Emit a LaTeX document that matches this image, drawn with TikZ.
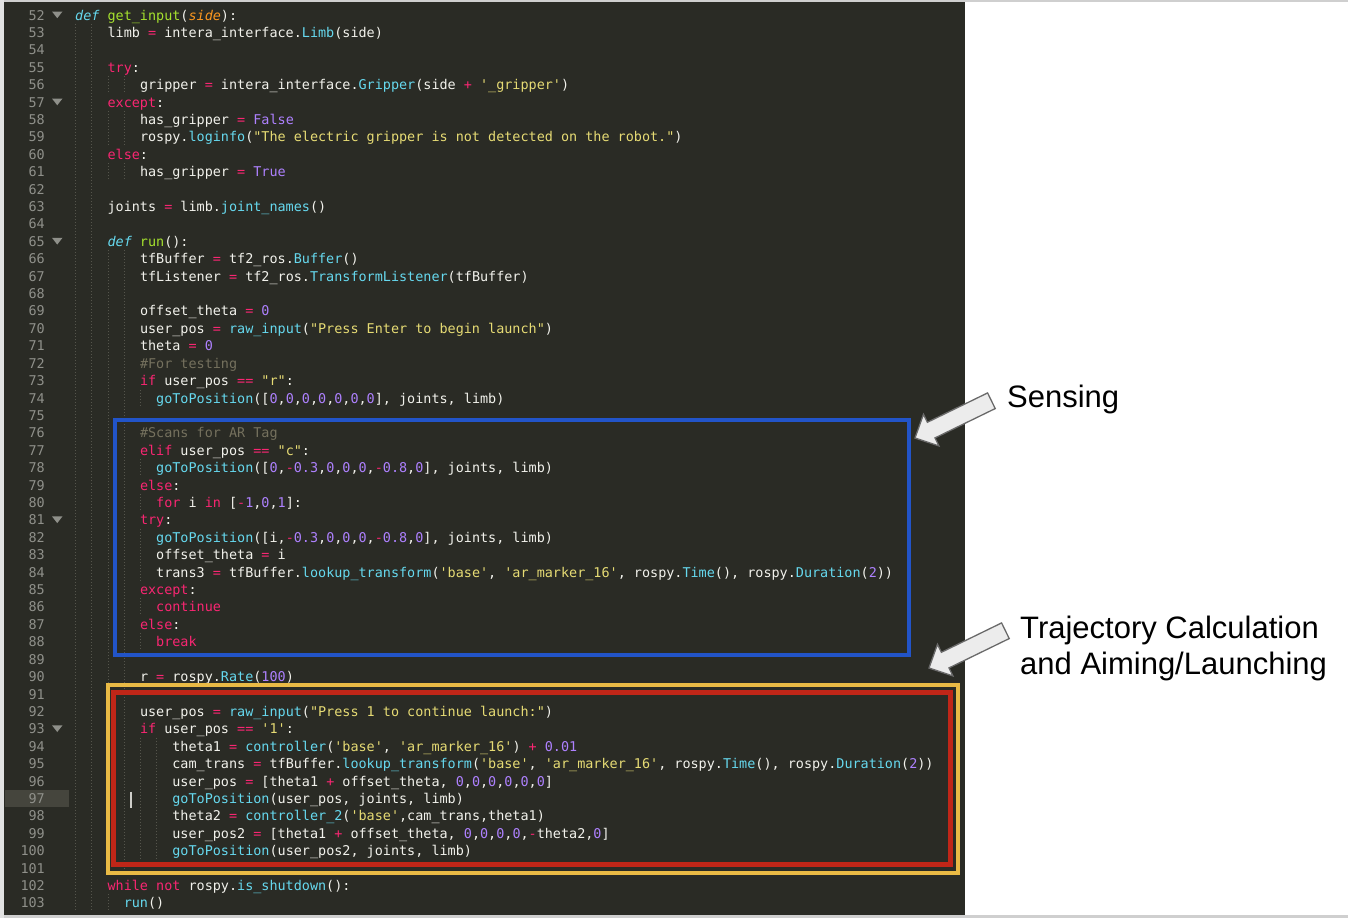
\documentclass[tikz,border=0pt]{standalone}
\usepackage{fontspec}
\setmonofont{DejaVu Sans Mono}
\newfontfamily\annfont{Liberation Sans}
\definecolor{panelbg}{HTML}{2A2B25}
\definecolor{edgec}{HTML}{CFCFCF}
\definecolor{txtc}{HTML}{F2F2EC}
\definecolor{kwc}{HTML}{F92672}
\definecolor{fnc}{HTML}{66D9EF}
\definecolor{grc}{HTML}{A6E22E}
\definecolor{orc}{HTML}{FD971F}
\definecolor{nuc}{HTML}{AE81FF}
\definecolor{stc}{HTML}{E6DB74}
\definecolor{cmc}{HTML}{75715E}
\definecolor{lnc}{HTML}{8F908A}
\definecolor{guidec}{HTML}{55554C}
\definecolor{hlc}{HTML}{45453D}
\definecolor{blueb}{HTML}{2254C8}
\definecolor{yellowb}{HTML}{E9BA45}
\definecolor{redb}{HTML}{C02618}
\definecolor{arrfill}{HTML}{ECECEC}
\definecolor{arrline}{HTML}{6A6A6A}
\newcommand\cK[1]{\textcolor{kwc}{#1}}
\newcommand\cF[1]{\textcolor{fnc}{#1}}
\newcommand\cG[1]{\textcolor{grc}{#1}}
\newcommand\cP[1]{\textcolor{orc}{\itshape #1}}
\newcommand\cD[1]{\textcolor{fnc}{\itshape #1}}
\newcommand\cN[1]{\textcolor{nuc}{#1}}
\newcommand\cS[1]{\textcolor{stc}{#1}}
\newcommand\cC[1]{\textcolor{cmc}{#1}}
\newcommand\codeline[3]{\node[codetext] (c#1) at ({75+8.1*#2},{20+17.41*(#1-52)}) {#3};}
\newcommand\guide[3]{\draw[guide] ({75.5+8.1*#1},{20+17.41*(#2-52)-13.5}) -- ({75.5+8.1*#1},{20+17.41*(#3-52)+3.9});}
\newcommand\foldmark[1]{\fill[lnc] (52,{20+17.41*(#1-52)-8.5}) -- (62.5,{20+17.41*(#1-52)-8.5}) -- (57.25,{20+17.41*(#1-52)-1.8}) -- cycle;}
\newcommand\blockarrow[2]{\begin{scope}[shift={#1}, rotate=#2]
  \draw[blockarr] (0,0) -- (-18,17.6) -- (-18,8.7) -- (-85,8.7) -- (-85,-8.7) -- (-18,-8.7) -- (-18,-17.6) -- cycle;
\end{scope}}
\begin{document}
\begin{tikzpicture}[x=1pt,y=-1pt,
  codetext/.style={anchor=base west, inner sep=0pt, text=txtc, font=\ttfamily\fontsize{13.45}{16}\selectfont\frenchspacing},
  lnumtext/.style={anchor=base east, inner sep=0pt, text=lnc, font=\ttfamily\fontsize{13.45}{16}\selectfont},
  guide/.style={draw=guidec, line width=0.8pt, dash pattern=on 1pt off 2pt},
  anntext/.style={anchor=base west, inner sep=0pt, text=black, font=\annfont\fontsize{31}{36}\selectfont},
  blockarr/.style={draw=arrline, fill=arrfill, line width=1.3pt, line join=miter},
  hlbox/.style={line width=#1}]
\useasboundingbox (0,0) rectangle (1348,918);
\fill[white] (0,0) rectangle (1348,918);
\fill[edgec] (0,0) rectangle (1348,2);
\fill[edgec] (0,915) rectangle (1348,918);
\fill[edgec!60!white] (0,0) rectangle (4,918);
\fill[panelbg] (4,2) rectangle (965,915);
% highlighted line 97
\fill[hlc] (5,790) rectangle (68.7,806.7);
% indent guides
\guide{0}{53}{103}
\guide{2}{53}{103}
\guide{4}{56}{56}
\guide{6}{56}{56}
\guide{4}{58}{59}
\guide{6}{58}{59}
\guide{4}{61}{61}
\guide{6}{61}{61}
\guide{4}{66}{101}
\guide{6}{66}{101}
\guide{4}{103}{103}
\guide{8}{74}{74}
\guide{8}{78}{78}
\guide{8}{80}{80}
\guide{8}{82}{84}
\guide{8}{86}{86}
\guide{8}{88}{88}
\guide{8}{94}{100}
\guide{10}{94}{100}
% line numbers
\foreach \i in {52,...,103} {\node[lnumtext] (n\i) at (45,{20+17.41*(\i-52)}) {\i};}
\foldmark{52}\foldmark{57}\foldmark{65}\foldmark{81}\foldmark{93}
% code
\codeline{52}{0}{\cD{def} \cG{get\_input}(\cP{side}):}
\codeline{53}{4}{limb \cK{=} intera\_interface.\cF{Limb}(side)}
\codeline{55}{4}{\cK{try}:}
\codeline{56}{8}{gripper \cK{=} intera\_interface.\cF{Gripper}(side \cK{+} \cS{'\_gripper'})}
\codeline{57}{4}{\cK{except}:}
\codeline{58}{8}{has\_gripper \cK{=} \cN{False}}
\codeline{59}{8}{rospy.\cF{loginfo}(\cS{"The electric gripper is not detected on the robot."})}
\codeline{60}{4}{\cK{else}:}
\codeline{61}{8}{has\_gripper \cK{=} \cN{True}}
\codeline{63}{4}{joints \cK{=} limb.\cF{joint\_names}()}
\codeline{65}{4}{\cD{def} \cG{run}():}
\codeline{66}{8}{tfBuffer \cK{=} tf2\_ros.\cF{Buffer}()}
\codeline{67}{8}{tfListener \cK{=} tf2\_ros.\cF{TransformListener}(tfBuffer)}
\codeline{69}{8}{offset\_theta \cK{=} \cN{0}}
\codeline{70}{8}{user\_pos \cK{=} \cF{raw\_input}(\cS{"Press Enter to begin launch"})}
\codeline{71}{8}{theta \cK{=} \cN{0}}
\codeline{72}{8}{\cC{\#For testing}}
\codeline{73}{8}{\cK{if} user\_pos \cK{==} \cS{"r"}:}
\codeline{74}{10}{\cF{goToPosition}([\cN{0},\cN{0},\cN{0},\cN{0},\cN{0},\cN{0},\cN{0}], joints, limb)}
\codeline{76}{8}{\cC{\#Scans for AR Tag}}
\codeline{77}{8}{\cK{elif} user\_pos \cK{==} \cS{"c"}:}
\codeline{78}{10}{\cF{goToPosition}([\cN{0},\cK{-}\cN{0.3},\cN{0},\cN{0},\cN{0},\cK{-}\cN{0.8},\cN{0}], joints, limb)}
\codeline{79}{8}{\cK{else}:}
\codeline{80}{10}{\cK{for} i \cK{in} [\cK{-}\cN{1},\cN{0},\cN{1}]:}
\codeline{81}{8}{\cK{try}:}
\codeline{82}{10}{\cF{goToPosition}([i,\cK{-}\cN{0.3},\cN{0},\cN{0},\cN{0},\cK{-}\cN{0.8},\cN{0}], joints, limb)}
\codeline{83}{10}{offset\_theta \cK{=} i}
\codeline{84}{10}{trans3 \cK{=} tfBuffer.\cF{lookup\_transform}(\cS{'base'}, \cS{'ar\_marker\_16'}, rospy.\cF{Time}(), rospy.\cF{Duration}(\cN{2}))}
\codeline{85}{8}{\cK{except}:}
\codeline{86}{10}{\cK{continue}}
\codeline{87}{8}{\cK{else}:}
\codeline{88}{10}{\cK{break}}
\codeline{90}{8}{r \cK{=} rospy.\cF{Rate}(\cN{100})}
\codeline{92}{8}{user\_pos \cK{=} \cF{raw\_input}(\cS{"Press 1 to continue launch:"})}
\codeline{93}{8}{\cK{if} user\_pos \cK{==} \cS{'1'}:}
\codeline{94}{12}{theta1 \cK{=} \cF{controller}(\cS{'base'}, \cS{'ar\_marker\_16'}) \cK{+} \cN{0.01}}
\codeline{95}{12}{cam\_trans \cK{=} tfBuffer.\cF{lookup\_transform}(\cS{'base'}, \cS{'ar\_marker\_16'}, rospy.\cF{Time}(), rospy.\cF{Duration}(\cN{2}))}
\codeline{96}{12}{user\_pos \cK{=} [theta1 \cK{+} offset\_theta, \cN{0},\cN{0},\cN{0},\cN{0},\cN{0},\cN{0}]}
\codeline{97}{12}{\cF{goToPosition}(user\_pos, joints, limb)}
\codeline{98}{12}{theta2 \cK{=} \cF{controller\_2}(\cS{'base'},cam\_trans,theta1)}
\codeline{99}{12}{user\_pos2 \cK{=} [theta1 \cK{+} offset\_theta, \cN{0},\cN{0},\cN{0},\cN{0},\cK{-}theta2,\cN{0}]}
\codeline{100}{12}{\cF{goToPosition}(user\_pos2, joints, limb)}
\codeline{102}{4}{\cK{while} \cK{not} rospy.\cF{is\_shutdown}():}
\codeline{103}{6}{\cF{run}()}
% cursor
\draw[txtc!85!black, line width=1.8pt] (131,791.5) -- (131,808);
% highlight boxes
\draw[blueb, line width=4pt] (115,420) rectangle (909,655);
\draw[yellowb, line width=4pt] (107.5,685) rectangle (958,873);
\draw[redb, line width=5pt] (113,692.5) rectangle (950,864.5);
% annotations
\node[anntext] (sens) at (1007,407) {Sensing};
\node[anntext] (traj1) at (1020,638) {Trajectory Calculation};
\node[anntext] (traj2) at (1020,674) {and Aiming/Launching};
\blockarrow{(915,438)}{206}
\blockarrow{(929,668)}{206}
\end{tikzpicture}
\end{document}
